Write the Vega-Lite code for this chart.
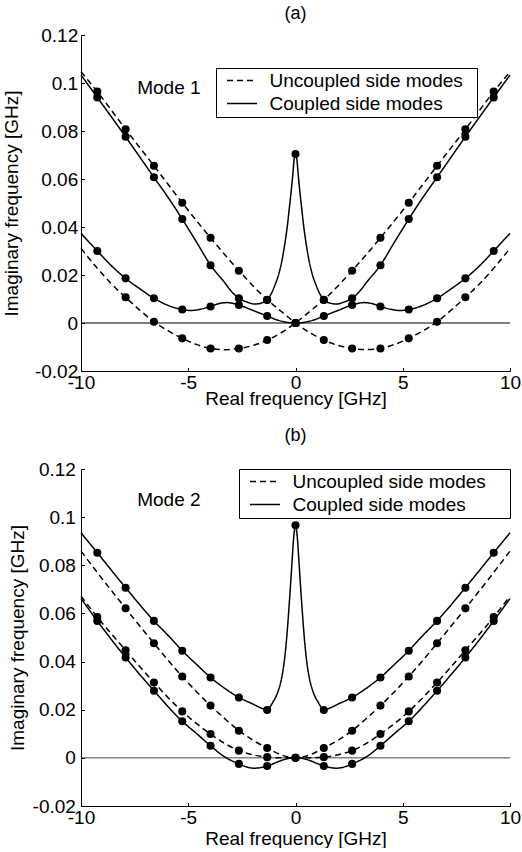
{
"$schema": "https://vega.github.io/schema/vega-lite/v6.json",
"padding": {"left": 2, "top": 5, "right": 0, "bottom": 0},
"background": "white",
"spacing": 19,
"resolve": {"legend": {"strokeDash": "independent"}},
"config": {
  "view": {"stroke": null},
  "font": "Liberation Sans",
  "axis": {"grid": false, "domainColor": "black", "tickColor": "black", "labelColor": "black", "titleColor": "black", "labelFont": "Liberation Sans", "titleFont": "Liberation Sans", "labelFontSize": 19, "titleFontSize": 19, "titleFontWeight": "normal", "tickSize": -3.5, "labelFlush": false, "labelOverlap": false, "domainWidth": 1, "tickWidth": 1},
  "title": {"font": "Liberation Sans", "fontSize": 18, "fontWeight": "normal", "color": "black", "anchor": "middle", "baseline": "alphabetic"},
  "legend": {"padding": 3, "strokeColor": "black", "fillColor": "white", "symbolType": "M-2,0H2", "symbolSize": 225, "symbolStrokeWidth": 1.5, "symbolStrokeColor": "black", "symbolFillColor": "transparent", "symbolOffset": 13.5, "labelOffset": 18, "labelFontSize": 19, "labelFont": "Liberation Sans", "labelColor": "black", "labelLimit": 400, "rowPadding": 3}
},
"data": {"values": [
{"p":"a","s":"D1","t":"U","x":-10,"y":0.1047,"m":0},
{"p":"a","s":"D1","t":"U","x":-9.24,"y":0.0964,"m":1},
{"p":"a","s":"D1","t":"U","x":-7.92,"y":0.0807,"m":1},
{"p":"a","s":"D1","t":"U","x":-6.6,"y":0.0655,"m":1},
{"p":"a","s":"D1","t":"U","x":-5.28,"y":0.0501,"m":1},
{"p":"a","s":"D1","t":"U","x":-3.96,"y":0.0355,"m":1},
{"p":"a","s":"D1","t":"U","x":-2.64,"y":0.0218,"m":1},
{"p":"a","s":"D1","t":"U","x":-1.32,"y":0.0097,"m":1},
{"p":"a","s":"D1","t":"U","x":-0.66,"y":0.0048,"m":0},
{"p":"a","s":"D1","t":"U","x":0,"y":0,"m":1},
{"p":"a","s":"D1","t":"U","x":0.66,"y":-0.004,"m":0},
{"p":"a","s":"D1","t":"U","x":1.32,"y":-0.0071,"m":1},
{"p":"a","s":"D1","t":"U","x":2.0,"y":-0.0094,"m":0},
{"p":"a","s":"D1","t":"U","x":2.64,"y":-0.0106,"m":1},
{"p":"a","s":"D1","t":"U","x":3.3,"y":-0.0111,"m":0},
{"p":"a","s":"D1","t":"U","x":3.96,"y":-0.0106,"m":1},
{"p":"a","s":"D1","t":"U","x":4.6,"y":-0.009,"m":0},
{"p":"a","s":"D1","t":"U","x":5.28,"y":-0.0064,"m":1},
{"p":"a","s":"D1","t":"U","x":5.95,"y":-0.0032,"m":0},
{"p":"a","s":"D1","t":"U","x":6.6,"y":0.0005,"m":1},
{"p":"a","s":"D1","t":"U","x":7.25,"y":0.0053,"m":0},
{"p":"a","s":"D1","t":"U","x":7.92,"y":0.0107,"m":1},
{"p":"a","s":"D1","t":"U","x":8.6,"y":0.0165,"m":0},
{"p":"a","s":"D1","t":"U","x":9.24,"y":0.0228,"m":0},
{"p":"a","s":"D1","t":"U","x":10,"y":0.0311,"m":0},
{"p":"a","s":"D2","t":"U","x":10,"y":0.1047,"m":0},
{"p":"a","s":"D2","t":"U","x":9.24,"y":0.0964,"m":1},
{"p":"a","s":"D2","t":"U","x":7.92,"y":0.0807,"m":1},
{"p":"a","s":"D2","t":"U","x":6.6,"y":0.0655,"m":1},
{"p":"a","s":"D2","t":"U","x":5.28,"y":0.0501,"m":1},
{"p":"a","s":"D2","t":"U","x":3.96,"y":0.0355,"m":1},
{"p":"a","s":"D2","t":"U","x":2.64,"y":0.0218,"m":1},
{"p":"a","s":"D2","t":"U","x":1.32,"y":0.0097,"m":1},
{"p":"a","s":"D2","t":"U","x":0.66,"y":0.0048,"m":0},
{"p":"a","s":"D2","t":"U","x":0,"y":0,"m":1},
{"p":"a","s":"D2","t":"U","x":-0.66,"y":-0.004,"m":0},
{"p":"a","s":"D2","t":"U","x":-1.32,"y":-0.0071,"m":1},
{"p":"a","s":"D2","t":"U","x":-2.0,"y":-0.0094,"m":0},
{"p":"a","s":"D2","t":"U","x":-2.64,"y":-0.0106,"m":1},
{"p":"a","s":"D2","t":"U","x":-3.3,"y":-0.0111,"m":0},
{"p":"a","s":"D2","t":"U","x":-3.96,"y":-0.0106,"m":1},
{"p":"a","s":"D2","t":"U","x":-4.6,"y":-0.009,"m":0},
{"p":"a","s":"D2","t":"U","x":-5.28,"y":-0.0064,"m":1},
{"p":"a","s":"D2","t":"U","x":-5.95,"y":-0.0032,"m":0},
{"p":"a","s":"D2","t":"U","x":-6.6,"y":0.0005,"m":1},
{"p":"a","s":"D2","t":"U","x":-7.25,"y":0.0053,"m":0},
{"p":"a","s":"D2","t":"U","x":-7.92,"y":0.0107,"m":1},
{"p":"a","s":"D2","t":"U","x":-8.6,"y":0.0165,"m":0},
{"p":"a","s":"D2","t":"U","x":-9.24,"y":0.0228,"m":0},
{"p":"a","s":"D2","t":"U","x":-10,"y":0.0311,"m":0},
{"p":"a","s":"S1","t":"C","x":-10,"y":0.1033,"m":0},
{"p":"a","s":"S1","t":"C","x":-9.24,"y":0.094,"m":1},
{"p":"a","s":"S1","t":"C","x":-7.92,"y":0.0776,"m":1},
{"p":"a","s":"S1","t":"C","x":-6.6,"y":0.0607,"m":1},
{"p":"a","s":"S1","t":"C","x":-5.9,"y":0.0518,"m":0},
{"p":"a","s":"S1","t":"C","x":-5.28,"y":0.0433,"m":1},
{"p":"a","s":"S1","t":"C","x":-4.6,"y":0.0335,"m":0},
{"p":"a","s":"S1","t":"C","x":-3.96,"y":0.0241,"m":1},
{"p":"a","s":"S1","t":"C","x":-3.3,"y":0.0168,"m":0},
{"p":"a","s":"S1","t":"C","x":-3.0,"y":0.0133,"m":0},
{"p":"a","s":"S1","t":"C","x":-2.64,"y":0.0103,"m":1},
{"p":"a","s":"S1","t":"C","x":-2.25,"y":0.0087,"m":0},
{"p":"a","s":"S1","t":"C","x":-1.9,"y":0.0079,"m":0},
{"p":"a","s":"S1","t":"C","x":-1.6,"y":0.0083,"m":0},
{"p":"a","s":"S1","t":"C","x":-1.32,"y":0.0096,"m":1},
{"p":"a","s":"S1","t":"C","x":-1.12,"y":0.0124,"m":0},
{"p":"a","s":"S1","t":"C","x":-0.95,"y":0.016,"m":0},
{"p":"a","s":"S1","t":"C","x":-0.77,"y":0.0207,"m":0},
{"p":"a","s":"S1","t":"C","x":-0.6,"y":0.0275,"m":0},
{"p":"a","s":"S1","t":"C","x":-0.47,"y":0.0346,"m":0},
{"p":"a","s":"S1","t":"C","x":-0.37,"y":0.0412,"m":0},
{"p":"a","s":"S1","t":"C","x":-0.28,"y":0.0485,"m":0},
{"p":"a","s":"S1","t":"C","x":-0.2,"y":0.055,"m":0},
{"p":"a","s":"S1","t":"C","x":-0.12,"y":0.0624,"m":0},
{"p":"a","s":"S1","t":"C","x":-0.06,"y":0.0685,"m":0},
{"p":"a","s":"S1","t":"C","x":0,"y":0.0704,"m":1},
{"p":"a","s":"S1","t":"C","x":0.06,"y":0.0685,"m":0},
{"p":"a","s":"S1","t":"C","x":0.12,"y":0.0624,"m":0},
{"p":"a","s":"S1","t":"C","x":0.2,"y":0.055,"m":0},
{"p":"a","s":"S1","t":"C","x":0.28,"y":0.0485,"m":0},
{"p":"a","s":"S1","t":"C","x":0.37,"y":0.0412,"m":0},
{"p":"a","s":"S1","t":"C","x":0.47,"y":0.0346,"m":0},
{"p":"a","s":"S1","t":"C","x":0.6,"y":0.0275,"m":0},
{"p":"a","s":"S1","t":"C","x":0.77,"y":0.0207,"m":0},
{"p":"a","s":"S1","t":"C","x":0.95,"y":0.016,"m":0},
{"p":"a","s":"S1","t":"C","x":1.12,"y":0.0124,"m":0},
{"p":"a","s":"S1","t":"C","x":1.32,"y":0.0096,"m":1},
{"p":"a","s":"S1","t":"C","x":1.6,"y":0.0083,"m":0},
{"p":"a","s":"S1","t":"C","x":1.9,"y":0.0079,"m":0},
{"p":"a","s":"S1","t":"C","x":2.25,"y":0.0087,"m":0},
{"p":"a","s":"S1","t":"C","x":2.64,"y":0.0103,"m":1},
{"p":"a","s":"S1","t":"C","x":3.0,"y":0.0133,"m":0},
{"p":"a","s":"S1","t":"C","x":3.3,"y":0.0168,"m":0},
{"p":"a","s":"S1","t":"C","x":3.96,"y":0.0241,"m":1},
{"p":"a","s":"S1","t":"C","x":4.6,"y":0.0335,"m":0},
{"p":"a","s":"S1","t":"C","x":5.28,"y":0.0433,"m":1},
{"p":"a","s":"S1","t":"C","x":5.9,"y":0.0518,"m":0},
{"p":"a","s":"S1","t":"C","x":6.6,"y":0.0607,"m":1},
{"p":"a","s":"S1","t":"C","x":7.92,"y":0.0776,"m":1},
{"p":"a","s":"S1","t":"C","x":9.24,"y":0.094,"m":1},
{"p":"a","s":"S1","t":"C","x":10,"y":0.1033,"m":0},
{"p":"a","s":"S2","t":"C","x":-10,"y":0.0374,"m":0},
{"p":"a","s":"S2","t":"C","x":-9.24,"y":0.03,"m":1},
{"p":"a","s":"S2","t":"C","x":-8.6,"y":0.024,"m":0},
{"p":"a","s":"S2","t":"C","x":-7.92,"y":0.0186,"m":1},
{"p":"a","s":"S2","t":"C","x":-7.25,"y":0.0142,"m":0},
{"p":"a","s":"S2","t":"C","x":-6.6,"y":0.0103,"m":1},
{"p":"a","s":"S2","t":"C","x":-5.9,"y":0.0072,"m":0},
{"p":"a","s":"S2","t":"C","x":-5.28,"y":0.0056,"m":1},
{"p":"a","s":"S2","t":"C","x":-4.9,"y":0.0052,"m":0},
{"p":"a","s":"S2","t":"C","x":-4.5,"y":0.0056,"m":0},
{"p":"a","s":"S2","t":"C","x":-3.96,"y":0.0069,"m":1},
{"p":"a","s":"S2","t":"C","x":-3.6,"y":0.008,"m":0},
{"p":"a","s":"S2","t":"C","x":-3.2,"y":0.0085,"m":0},
{"p":"a","s":"S2","t":"C","x":-2.64,"y":0.0075,"m":1},
{"p":"a","s":"S2","t":"C","x":-2.0,"y":0.0053,"m":0},
{"p":"a","s":"S2","t":"C","x":-1.32,"y":0.0029,"m":1},
{"p":"a","s":"S2","t":"C","x":-0.8,"y":0.0011,"m":0},
{"p":"a","s":"S2","t":"C","x":-0.4,"y":0.0003,"m":0},
{"p":"a","s":"S2","t":"C","x":0,"y":0,"m":1},
{"p":"a","s":"S2","t":"C","x":0.4,"y":0.0003,"m":0},
{"p":"a","s":"S2","t":"C","x":0.8,"y":0.0011,"m":0},
{"p":"a","s":"S2","t":"C","x":1.32,"y":0.0029,"m":1},
{"p":"a","s":"S2","t":"C","x":2.0,"y":0.0053,"m":0},
{"p":"a","s":"S2","t":"C","x":2.64,"y":0.0075,"m":1},
{"p":"a","s":"S2","t":"C","x":3.2,"y":0.0085,"m":0},
{"p":"a","s":"S2","t":"C","x":3.6,"y":0.008,"m":0},
{"p":"a","s":"S2","t":"C","x":3.96,"y":0.0069,"m":1},
{"p":"a","s":"S2","t":"C","x":4.5,"y":0.0056,"m":0},
{"p":"a","s":"S2","t":"C","x":4.9,"y":0.0052,"m":0},
{"p":"a","s":"S2","t":"C","x":5.28,"y":0.0056,"m":1},
{"p":"a","s":"S2","t":"C","x":5.9,"y":0.0072,"m":0},
{"p":"a","s":"S2","t":"C","x":6.6,"y":0.0103,"m":1},
{"p":"a","s":"S2","t":"C","x":7.25,"y":0.0142,"m":0},
{"p":"a","s":"S2","t":"C","x":7.92,"y":0.0186,"m":1},
{"p":"a","s":"S2","t":"C","x":8.6,"y":0.024,"m":0},
{"p":"a","s":"S2","t":"C","x":9.24,"y":0.03,"m":1},
{"p":"a","s":"S2","t":"C","x":10,"y":0.0374,"m":0},
{"p":"b","s":"S3","t":"C","x":-10,"y":0.0935,"m":0},
{"p":"b","s":"S3","t":"C","x":-9.24,"y":0.0852,"m":1},
{"p":"b","s":"S3","t":"C","x":-7.92,"y":0.0707,"m":1},
{"p":"b","s":"S3","t":"C","x":-6.6,"y":0.0569,"m":1},
{"p":"b","s":"S3","t":"C","x":-5.9,"y":0.0505,"m":0},
{"p":"b","s":"S3","t":"C","x":-5.28,"y":0.0445,"m":1},
{"p":"b","s":"S3","t":"C","x":-4.6,"y":0.0387,"m":0},
{"p":"b","s":"S3","t":"C","x":-3.96,"y":0.0334,"m":1},
{"p":"b","s":"S3","t":"C","x":-3.3,"y":0.0289,"m":0},
{"p":"b","s":"S3","t":"C","x":-2.64,"y":0.0251,"m":1},
{"p":"b","s":"S3","t":"C","x":-2.0,"y":0.0224,"m":0},
{"p":"b","s":"S3","t":"C","x":-1.6,"y":0.0207,"m":0},
{"p":"b","s":"S3","t":"C","x":-1.32,"y":0.0199,"m":1},
{"p":"b","s":"S3","t":"C","x":-1.2,"y":0.021,"m":0},
{"p":"b","s":"S3","t":"C","x":-1.05,"y":0.0232,"m":0},
{"p":"b","s":"S3","t":"C","x":-0.83,"y":0.0272,"m":0},
{"p":"b","s":"S3","t":"C","x":-0.65,"y":0.033,"m":0},
{"p":"b","s":"S3","t":"C","x":-0.51,"y":0.041,"m":0},
{"p":"b","s":"S3","t":"C","x":-0.4,"y":0.051,"m":0},
{"p":"b","s":"S3","t":"C","x":-0.31,"y":0.0617,"m":0},
{"p":"b","s":"S3","t":"C","x":-0.23,"y":0.072,"m":0},
{"p":"b","s":"S3","t":"C","x":-0.155,"y":0.0824,"m":0},
{"p":"b","s":"S3","t":"C","x":-0.08,"y":0.092,"m":0},
{"p":"b","s":"S3","t":"C","x":0,"y":0.0966,"m":1},
{"p":"b","s":"S3","t":"C","x":0.08,"y":0.092,"m":0},
{"p":"b","s":"S3","t":"C","x":0.155,"y":0.0824,"m":0},
{"p":"b","s":"S3","t":"C","x":0.23,"y":0.072,"m":0},
{"p":"b","s":"S3","t":"C","x":0.31,"y":0.0617,"m":0},
{"p":"b","s":"S3","t":"C","x":0.4,"y":0.051,"m":0},
{"p":"b","s":"S3","t":"C","x":0.51,"y":0.041,"m":0},
{"p":"b","s":"S3","t":"C","x":0.65,"y":0.033,"m":0},
{"p":"b","s":"S3","t":"C","x":0.83,"y":0.0272,"m":0},
{"p":"b","s":"S3","t":"C","x":1.05,"y":0.0232,"m":0},
{"p":"b","s":"S3","t":"C","x":1.2,"y":0.021,"m":0},
{"p":"b","s":"S3","t":"C","x":1.32,"y":0.0199,"m":1},
{"p":"b","s":"S3","t":"C","x":1.6,"y":0.0207,"m":0},
{"p":"b","s":"S3","t":"C","x":2.0,"y":0.0224,"m":0},
{"p":"b","s":"S3","t":"C","x":2.64,"y":0.0251,"m":1},
{"p":"b","s":"S3","t":"C","x":3.3,"y":0.0289,"m":0},
{"p":"b","s":"S3","t":"C","x":3.96,"y":0.0334,"m":1},
{"p":"b","s":"S3","t":"C","x":4.6,"y":0.0387,"m":0},
{"p":"b","s":"S3","t":"C","x":5.28,"y":0.0445,"m":1},
{"p":"b","s":"S3","t":"C","x":5.9,"y":0.0505,"m":0},
{"p":"b","s":"S3","t":"C","x":6.6,"y":0.0569,"m":1},
{"p":"b","s":"S3","t":"C","x":7.92,"y":0.0707,"m":1},
{"p":"b","s":"S3","t":"C","x":9.24,"y":0.0852,"m":1},
{"p":"b","s":"S3","t":"C","x":10,"y":0.0935,"m":0},
{"p":"b","s":"D3","t":"U","x":-10,"y":0.0859,"m":0},
{"p":"b","s":"D3","t":"U","x":-9.24,"y":0.077,"m":0},
{"p":"b","s":"D3","t":"U","x":-7.92,"y":0.0621,"m":1},
{"p":"b","s":"D3","t":"U","x":-6.6,"y":0.0476,"m":1},
{"p":"b","s":"D3","t":"U","x":-5.28,"y":0.0338,"m":1},
{"p":"b","s":"D3","t":"U","x":-3.96,"y":0.0217,"m":1},
{"p":"b","s":"D3","t":"U","x":-3.3,"y":0.0163,"m":0},
{"p":"b","s":"D3","t":"U","x":-2.64,"y":0.0113,"m":1},
{"p":"b","s":"D3","t":"U","x":-2.0,"y":0.0074,"m":0},
{"p":"b","s":"D3","t":"U","x":-1.32,"y":0.0041,"m":1},
{"p":"b","s":"D3","t":"U","x":-0.66,"y":0.0012,"m":0},
{"p":"b","s":"D3","t":"U","x":0,"y":0,"m":1},
{"p":"b","s":"D3","t":"U","x":0.66,"y":0.0012,"m":0},
{"p":"b","s":"D3","t":"U","x":1.32,"y":0.0041,"m":1},
{"p":"b","s":"D3","t":"U","x":2.0,"y":0.0074,"m":0},
{"p":"b","s":"D3","t":"U","x":2.64,"y":0.0113,"m":1},
{"p":"b","s":"D3","t":"U","x":3.3,"y":0.0163,"m":0},
{"p":"b","s":"D3","t":"U","x":3.96,"y":0.0217,"m":1},
{"p":"b","s":"D3","t":"U","x":5.28,"y":0.0338,"m":1},
{"p":"b","s":"D3","t":"U","x":6.6,"y":0.0476,"m":1},
{"p":"b","s":"D3","t":"U","x":7.92,"y":0.0621,"m":1},
{"p":"b","s":"D3","t":"U","x":9.24,"y":0.077,"m":0},
{"p":"b","s":"D3","t":"U","x":10,"y":0.0859,"m":0},
{"p":"b","s":"D4","t":"U","x":-10,"y":0.0672,"m":0},
{"p":"b","s":"D4","t":"U","x":-9.24,"y":0.0585,"m":1},
{"p":"b","s":"D4","t":"U","x":-7.92,"y":0.0447,"m":1},
{"p":"b","s":"D4","t":"U","x":-6.6,"y":0.0313,"m":1},
{"p":"b","s":"D4","t":"U","x":-5.28,"y":0.0193,"m":1},
{"p":"b","s":"D4","t":"U","x":-3.96,"y":0.0099,"m":1},
{"p":"b","s":"D4","t":"U","x":-3.3,"y":0.006,"m":0},
{"p":"b","s":"D4","t":"U","x":-2.64,"y":0.003,"m":1},
{"p":"b","s":"D4","t":"U","x":-2.0,"y":0.0013,"m":0},
{"p":"b","s":"D4","t":"U","x":-1.32,"y":0.0003,"m":1},
{"p":"b","s":"D4","t":"U","x":-0.66,"y":0.0,"m":0},
{"p":"b","s":"D4","t":"U","x":0,"y":0,"m":1},
{"p":"b","s":"D4","t":"U","x":0.66,"y":0.0,"m":0},
{"p":"b","s":"D4","t":"U","x":1.32,"y":0.0003,"m":1},
{"p":"b","s":"D4","t":"U","x":2.0,"y":0.0013,"m":0},
{"p":"b","s":"D4","t":"U","x":2.64,"y":0.003,"m":1},
{"p":"b","s":"D4","t":"U","x":3.3,"y":0.006,"m":0},
{"p":"b","s":"D4","t":"U","x":3.96,"y":0.0099,"m":1},
{"p":"b","s":"D4","t":"U","x":5.28,"y":0.0193,"m":1},
{"p":"b","s":"D4","t":"U","x":6.6,"y":0.0313,"m":1},
{"p":"b","s":"D4","t":"U","x":7.92,"y":0.0447,"m":1},
{"p":"b","s":"D4","t":"U","x":9.24,"y":0.0585,"m":1},
{"p":"b","s":"D4","t":"U","x":10,"y":0.0672,"m":0},
{"p":"b","s":"S4","t":"C","x":-10,"y":0.0662,"m":0},
{"p":"b","s":"S4","t":"C","x":-9.24,"y":0.0569,"m":1},
{"p":"b","s":"S4","t":"C","x":-7.92,"y":0.0417,"m":1},
{"p":"b","s":"S4","t":"C","x":-6.6,"y":0.0279,"m":1},
{"p":"b","s":"S4","t":"C","x":-5.28,"y":0.0152,"m":1},
{"p":"b","s":"S4","t":"C","x":-4.6,"y":0.01,"m":0},
{"p":"b","s":"S4","t":"C","x":-3.96,"y":0.005,"m":1},
{"p":"b","s":"S4","t":"C","x":-3.3,"y":0.0004,"m":0},
{"p":"b","s":"S4","t":"C","x":-2.64,"y":-0.0025,"m":1},
{"p":"b","s":"S4","t":"C","x":-2.3,"y":-0.0037,"m":0},
{"p":"b","s":"S4","t":"C","x":-1.92,"y":-0.0043,"m":0},
{"p":"b","s":"S4","t":"C","x":-1.6,"y":-0.004,"m":0},
{"p":"b","s":"S4","t":"C","x":-1.32,"y":-0.0034,"m":1},
{"p":"b","s":"S4","t":"C","x":-1.0,"y":-0.0023,"m":0},
{"p":"b","s":"S4","t":"C","x":-0.67,"y":-0.0011,"m":0},
{"p":"b","s":"S4","t":"C","x":-0.35,"y":-0.0003,"m":0},
{"p":"b","s":"S4","t":"C","x":0,"y":0,"m":1},
{"p":"b","s":"S4","t":"C","x":0.35,"y":-0.0003,"m":0},
{"p":"b","s":"S4","t":"C","x":0.67,"y":-0.0011,"m":0},
{"p":"b","s":"S4","t":"C","x":1.0,"y":-0.0023,"m":0},
{"p":"b","s":"S4","t":"C","x":1.32,"y":-0.0034,"m":1},
{"p":"b","s":"S4","t":"C","x":1.6,"y":-0.004,"m":0},
{"p":"b","s":"S4","t":"C","x":1.92,"y":-0.0043,"m":0},
{"p":"b","s":"S4","t":"C","x":2.3,"y":-0.0037,"m":0},
{"p":"b","s":"S4","t":"C","x":2.64,"y":-0.0025,"m":1},
{"p":"b","s":"S4","t":"C","x":3.3,"y":0.0004,"m":0},
{"p":"b","s":"S4","t":"C","x":3.96,"y":0.005,"m":1},
{"p":"b","s":"S4","t":"C","x":4.6,"y":0.01,"m":0},
{"p":"b","s":"S4","t":"C","x":5.28,"y":0.0152,"m":1},
{"p":"b","s":"S4","t":"C","x":6.6,"y":0.0279,"m":1},
{"p":"b","s":"S4","t":"C","x":7.92,"y":0.0417,"m":1},
{"p":"b","s":"S4","t":"C","x":9.24,"y":0.0569,"m":1},
{"p":"b","s":"S4","t":"C","x":10,"y":0.0662,"m":0}
]},
"vconcat": [
{
  "width": 429, "height": 336,
  "title": {"text": "(a)", "offset": 3},
  "layer": [
    {"data": {"values": [{}]},
     "mark": {"type": "rule", "color": "black", "strokeWidth": 1},
     "encoding": {"y": {"datum": 0, "type": "quantitative", "scale": {"domain": [-0.02, 0.12], "nice": false, "zero": false}}}},
    {"transform": [{"filter": "datum.p == 'a'"}],
     "mark": {"type": "line", "color": "black", "strokeWidth": 1.5, "interpolate": "monotone"},
     "encoding": {
       "x": {"field": "x", "type": "quantitative", "scale": {"domain": [-10, 10], "nice": false, "zero": false},
             "axis": {"title": "Real frequency [GHz]", "values": [-10, -5, 0, 5, 10], "labelExpr": "replace(format(datum.value, '~g'), '\u2212', '-')", "labelFontSize": 19, "labelPadding": 5.5, "titleY": 33, "titleBaseline": "alphabetic"}},
       "y": {"field": "y", "type": "quantitative", "scale": {"domain": [-0.02, 0.12], "nice": false, "zero": false},
             "axis": {"title": "Imaginary frequency [GHz]", "values": [-0.02, 0, 0.02, 0.04, 0.06, 0.08, 0.1, 0.12], "labelExpr": "replace(format(datum.value, '~g'), '\u2212', '-')", "labelFontSize": 19, "labelPadding": 6.8, "titleX": -64, "titleBaseline": "alphabetic"}},
       "detail": {"field": "s"},
       "strokeDash": {"field": "t", "type": "nominal", "scale": {"domain": ["U", "C"], "range": [[6, 4], [1, 0]]},
             "legend": {"title": null, "orient": "top-right", "offset": 33, "labelExpr": "(datum.label == 'U' ? 'Uncoupled side modes' : 'Coupled side modes') + '\u00a0\u00a0\u200b'"}}
     }},
    {"transform": [{"filter": "datum.p == 'a' && datum.m == 1"}],
     "mark": {"type": "circle", "color": "black", "size": 65, "opacity": 1},
     "encoding": {
       "x": {"field": "x", "type": "quantitative", "scale": {"domain": [-10, 10], "nice": false, "zero": false}},
       "y": {"field": "y", "type": "quantitative", "scale": {"domain": [-0.02, 0.12], "nice": false, "zero": false}}
     }},
    {"data": {"values": [{}]},
     "mark": {"type": "text", "text": "Mode 1", "align": "left", "baseline": "middle", "fontSize": 19, "font": "Liberation Sans", "color": "black"},
     "encoding": {
       "x": {"datum": -7.38, "type": "quantitative", "scale": {"domain": [-10, 10], "nice": false, "zero": false}},
       "y": {"datum": 0.0979, "type": "quantitative", "scale": {"domain": [-0.02, 0.12], "nice": false, "zero": false}}
     }}
  ]
},
{
  "width": 429, "height": 337,
  "title": {"text": "(b)", "offset": 14.7},
  "layer": [
    {"data": {"values": [{}]},
     "mark": {"type": "rule", "color": "#444444", "strokeWidth": 1},
     "encoding": {"y": {"datum": 0, "type": "quantitative", "scale": {"domain": [-0.02, 0.12], "nice": false, "zero": false}}}},
    {"transform": [{"filter": "datum.p == 'b'"}],
     "mark": {"type": "line", "color": "black", "strokeWidth": 1.5, "interpolate": "monotone"},
     "encoding": {
       "x": {"field": "x", "type": "quantitative", "scale": {"domain": [-10, 10], "nice": false, "zero": false},
             "axis": {"title": "Real frequency [GHz]", "values": [-10, -5, 0, 5, 10], "labelExpr": "replace(format(datum.value, '~g'), '\u2212', '-')", "labelFontSize": 19, "labelPadding": 5.5, "titleY": 38, "titleBaseline": "alphabetic"}},
       "y": {"field": "y", "type": "quantitative", "scale": {"domain": [-0.02, 0.12], "nice": false, "zero": false},
             "axis": {"title": "Imaginary frequency [GHz]", "values": [-0.02, 0, 0.02, 0.04, 0.06, 0.08, 0.1, 0.12], "labelExpr": "replace(format(datum.value, '~g'), '\u2212', '-')", "labelFontSize": 19, "labelPadding": 9.1, "titleX": -58, "titleBaseline": "alphabetic"}},
       "detail": {"field": "s"},
       "strokeDash": {"field": "t", "type": "nominal", "scale": {"domain": ["U", "C"], "range": [[6, 4], [1, 0]]},
             "legend": {"title": null, "orient": "top-right", "offset": 0, "labelExpr": "(datum.label == 'U' ? 'Uncoupled side modes' : 'Coupled side modes') + '\u00a0\u00a0\u00a0\u00a0\u200b'"}}
     }},
    {"transform": [{"filter": "datum.p == 'b' && datum.m == 1"}],
     "mark": {"type": "circle", "color": "black", "size": 65, "opacity": 1},
     "encoding": {
       "x": {"field": "x", "type": "quantitative", "scale": {"domain": [-10, 10], "nice": false, "zero": false}},
       "y": {"field": "y", "type": "quantitative", "scale": {"domain": [-0.02, 0.12], "nice": false, "zero": false}}
     }},
    {"data": {"values": [{}]},
     "mark": {"type": "text", "text": "Mode 2", "align": "left", "baseline": "middle", "fontSize": 19, "font": "Liberation Sans", "color": "black"},
     "encoding": {
       "x": {"datum": -7.38, "type": "quantitative", "scale": {"domain": [-10, 10], "nice": false, "zero": false}},
       "y": {"datum": 0.1073, "type": "quantitative", "scale": {"domain": [-0.02, 0.12], "nice": false, "zero": false}}
     }}
  ]
}
]
}
